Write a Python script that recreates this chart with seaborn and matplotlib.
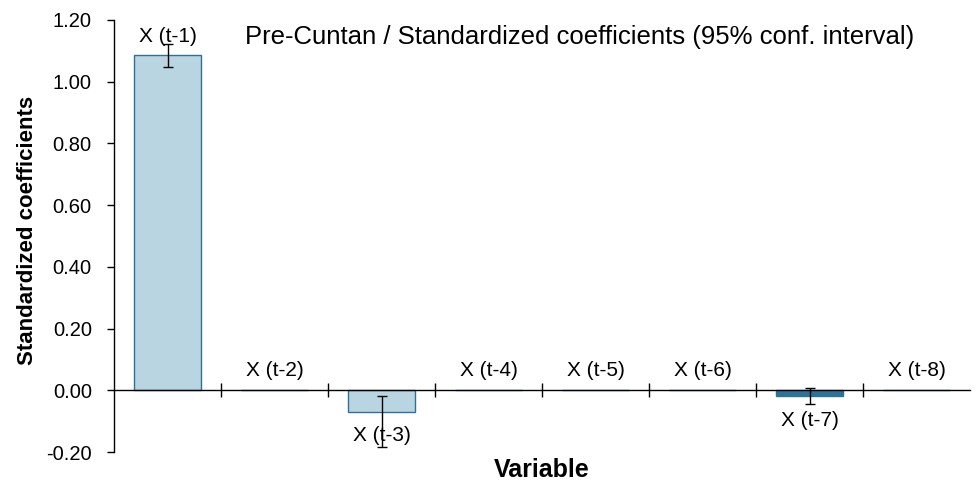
import matplotlib
matplotlib.use("Agg")
import matplotlib.pyplot as plt
import seaborn as sns
import numpy as np
import pandas as pd

categories = ["X (t-1)", "X (t-2)", "X (t-3)", "X (t-4)", "X (t-5)", "X (t-6)", "X (t-7)", "X (t-8)"]
values = [1.085, 0.0, -0.07, 0.0, 0.0, 0.0, -0.02, 0.0]
ci_lower = [1.048, 0.0, -0.185, 0.0, 0.0, 0.0, -0.045, 0.0]
ci_upper = [1.122, 0.0, -0.02, 0.0, 0.0, 0.0, 0.007, 0.0]
has_ci = [True, False, True, False, False, False, True, False]
yticks = [-0.20, 0.00, 0.20, 0.40, 0.60, 0.80, 1.00, 1.20]
title = "Pre-Cuntan / Standardized coefficients (95% conf. interval)"

light = "#b9d5e2"
dark = "#2b7499"
edge = "#2f7194"
bar_colors = [light, light, light, light, light, light, dark, light]

sns.set_style("white")
plt.rcParams['font.family'] = ['Liberation Sans', 'DejaVu Sans']
plt.rcParams['text.color'] = 'black'
plt.rcParams['axes.labelcolor'] = 'black'
plt.rcParams['xtick.color'] = 'black'
plt.rcParams['ytick.color'] = 'black'

fig = plt.figure(figsize=(9.76, 4.86), dpi=100)
ax = fig.add_axes([114/976, 1-452/486, 856/976, 432/486])

df = pd.DataFrame({"cat": categories, "val": values})
sns.barplot(data=df, x="cat", y="val", hue="cat", palette=bar_colors, legend=False,
            errorbar=None, width=0.63, saturation=1, edgecolor=edge, linewidth=1,
            ax=ax, zorder=2)

# error bars
for i, (v, lo, hi, h) in enumerate(zip(values, ci_lower, ci_upper, has_ci)):
    if h:
        ax.errorbar(i, v, yerr=[[v - lo], [hi - v]], fmt='none', ecolor='black',
                    elinewidth=1, capsize=3.6, capthick=1, zorder=3)

# value labels
for i, (c, v) in enumerate(zip(categories, values)):
    if v >= 0:
        ax.annotate(c, (i, v), xytext=(0, 14), textcoords='offset points',
                    ha='center', va='center', fontsize=15, color='black', zorder=4)
    else:
        ax.annotate(c, (i, v), xytext=(0, -17), textcoords='offset points',
                    ha='center', va='center', fontsize=15, color='black', zorder=4)

ax.set_xlim(-0.5, 7.5)
ax.set_ylim(-0.2, 1.2)
ax.set_yticks(yticks)
ax.set_yticklabels([f"{t:.2f}" for t in yticks], fontsize=14.5, color='black')
ax.set_xticks(np.arange(0.5, 7.0, 1.0))
ax.set_xticklabels([])

for s in ["top", "right"]:
    ax.spines[s].set_visible(False)
ax.spines["bottom"].set_position(("data", 0))
ax.spines["bottom"].set_color("black")
ax.spines["left"].set_color("black")
ax.spines["bottom"].set_linewidth(1)
ax.spines["left"].set_linewidth(1)
ax.spines["bottom"].set_zorder(2.5)

ax.tick_params(axis='x', direction='inout', length=10, width=1, color='black', bottom=True)
ax.tick_params(axis='y', direction='out', length=5, width=1, color='black', left=True, pad=11)

ax.set_xlabel("Variable", fontsize=18, fontweight='bold', va='center', color='black')
ax.xaxis.set_label_coords(0.5, -0.042)
ax.set_ylabel("Standardized coefficients", fontsize=16, fontweight='bold', va='center', color='black')
ax.yaxis.set_label_coords(-0.1005, 0.513)

ax.text((245-114)/856, (452-37)/432, title, transform=ax.transAxes,
        ha='left', va='center', fontsize=18.5, color='black')

fig.savefig("out.png", dpi=100)
